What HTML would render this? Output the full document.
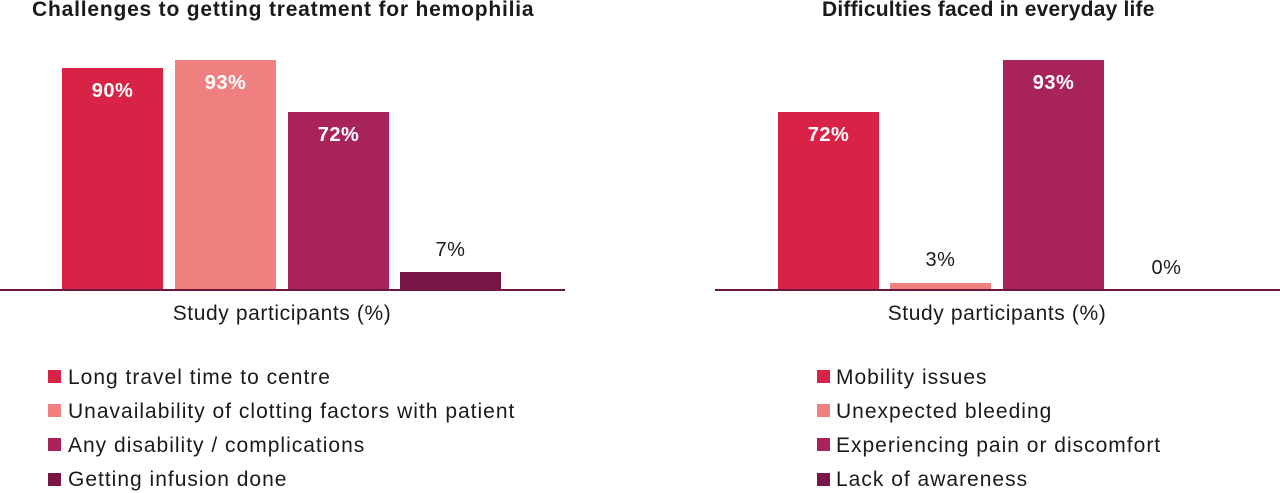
<!DOCTYPE html>
<html><head><style>
body{margin:0;width:1280px;height:493px;background:#fff;position:relative;overflow:hidden;font-family:"Liberation Sans",sans-serif;color:#1a1a1a}
div{position:absolute}
.t{font-weight:bold;font-size:21px;letter-spacing:0.8px;top:-2px;white-space:nowrap}
.b{width:101px}
.v{color:#fff;font-weight:bold;font-size:20px;letter-spacing:0.5px;width:101px;text-align:center}
.o{font-size:20px;letter-spacing:0.5px;width:101px;text-align:center}
.ax{height:2px;background:#6b1640;top:289px}
.lab{font-size:21px;letter-spacing:0.6px;top:302px;width:300px;text-align:center;white-space:nowrap}
.sq{width:13px;height:13px;left:48px}
.lt{font-size:21px;letter-spacing:1px;white-space:nowrap}
</style></head><body>
<div class="t" style="left:32px">Challenges to getting treatment for hemophilia</div>
<div class="t" style="left:822px;letter-spacing:0.2px">Difficulties faced in everyday life</div>

<div class="b" style="left:62px;top:68px;height:222px;background:#d82346"></div>
<div class="b" style="left:175px;top:60px;height:230px;background:#f08080"></div>
<div class="b" style="left:288px;top:112px;height:178px;background:#a8235a"></div>
<div class="b" style="left:400px;top:272px;height:18px;background:#7a1548"></div>
<div class="v" style="left:62px;top:80px">90%</div>
<div class="v" style="left:175px;top:72px">93%</div>
<div class="v" style="left:288px;top:124px">72%</div>
<div class="o" style="left:400px;top:239px">7%</div>
<div class="ax" style="left:0;width:565px"></div>
<div class="lab" style="left:132px">Study participants (%)</div>

<div class="b" style="left:778px;top:112px;height:178px;background:#d82346"></div>
<div class="b" style="left:890px;top:283px;height:7px;background:#f08080"></div>
<div class="b" style="left:1003px;top:60px;height:230px;background:#a8235a"></div>
<div class="v" style="left:778px;top:124px">72%</div>
<div class="o" style="left:890px;top:249px">3%</div>
<div class="v" style="left:1003px;top:72px">93%</div>
<div class="o" style="left:1116px;top:257px">0%</div>
<div class="ax" style="left:715px;width:565px"></div>
<div class="lab" style="left:847px">Study participants (%)</div>

<div class="sq" style="top:370px;background:#d82346"></div><div class="lt" style="left:68px;top:366px">Long travel time to centre</div>
<div class="sq" style="top:404px;background:#f08080"></div><div class="lt" style="left:68px;top:400px">Unavailability of clotting factors with patient</div>
<div class="sq" style="top:438px;background:#a8235a"></div><div class="lt" style="left:68px;top:434px">Any disability / complications</div>
<div class="sq" style="top:473px;background:#7a1548"></div><div class="lt" style="left:68px;top:468px">Getting infusion done</div>

<div class="sq" style="left:817px;top:370px;background:#d82346"></div><div class="lt" style="left:836px;top:366px">Mobility issues</div>
<div class="sq" style="left:817px;top:404px;background:#f08080"></div><div class="lt" style="left:836px;top:400px">Unexpected bleeding</div>
<div class="sq" style="left:817px;top:438px;background:#a8235a"></div><div class="lt" style="left:836px;top:434px">Experiencing pain or discomfort</div>
<div class="sq" style="left:817px;top:473px;background:#7a1548"></div><div class="lt" style="left:836px;top:468px">Lack of awareness</div>
</body></html>
